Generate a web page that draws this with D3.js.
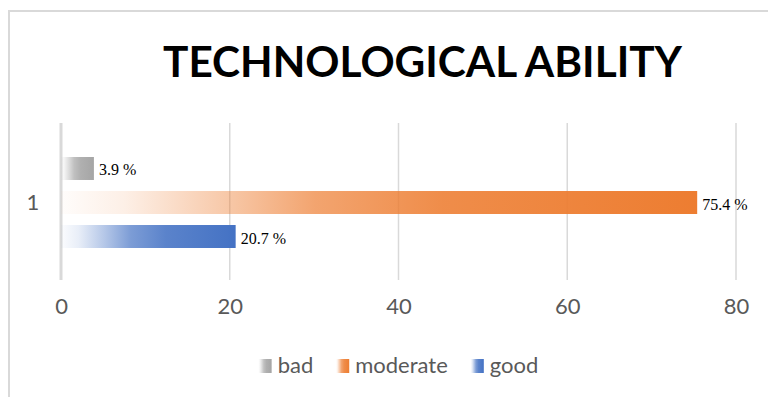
<!DOCTYPE html>
<html>
<head>
<meta charset="utf-8">
<script src="https://cdn.jsdelivr.net/npm/d3@7"></script>
<style>
  html, body { margin: 0; padding: 0; background: #fff; }
  svg { display: block; }
</style>
</head>
<body>
<script>
// data
const categories = ["1"];
const series = ["bad", "moderate", "good"];
const values = [3.9, 75.4, 20.7];
const colors = ["#a5a5a5", "#ed7d31", "#4472c4"];
const ticks = [0, 20, 40, 60, 80];

const W = 768, H = 397;
const plot = { left: 61, right: 736, top: 123, bottom: 280 };

const svg = d3.select("body").append("svg")
  .attr("width", W)
  .attr("height", H);

// chart frame (only the top and left edges show)
svg.append("rect")
  .attr("x", 9).attr("y", 11)
  .attr("width", W + 20).attr("height", H + 20)
  .attr("fill", "#fff")
  .attr("stroke", "#d9d9d9")
  .attr("stroke-width", 2);

// gradients: fade in from white on the left
const defs = svg.append("defs");
const stops = [[0, 0.02], [0.1, 0.12], [0.25, 0.4], [0.4, 0.7], [0.6, 0.88], [1, 1]];
series.forEach((s, i) => {
  const g = defs.append("linearGradient")
    .attr("id", "grad-" + s)
    .attr("x1", 0).attr("x2", 1).attr("y1", 0).attr("y2", 0);
  stops.forEach(([o, a]) => {
    g.append("stop")
      .attr("offset", o)
      .attr("stop-color", colors[i])
      .attr("stop-opacity", a);
  });
});

// title
svg.append("text")
  .attr("x", 163).attr("y", 77)
  .attr("font-family", "Lato, 'Open Sans', sans-serif")
  .attr("font-weight", 700)
  .attr("font-size", 42)
  .attr("textLength", 519)
  .attr("lengthAdjust", "spacingAndGlyphs")
  .attr("fill", "#000")
  .text("TECHNOLOGICAL ABILITY");

// scales
const x = d3.scaleLinear().domain([0, 80]).range([plot.left, plot.right]);
const y = d3.scaleBand().domain(series).range([157, 248])
  .paddingInner(0.324).paddingOuter(0);

// grid lines
svg.append("g")
  .selectAll("line")
  .data(ticks)
  .join("line")
  .attr("x1", (d) => x(d)).attr("x2", (d) => x(d))
  .attr("y1", plot.top).attr("y2", plot.bottom)
  .attr("stroke", "#d9d9d9")
  .attr("stroke-width", (d) => (d === 0 ? 3 : 1.5));

// x axis labels
const xAxis = svg.append("g")
  .attr("transform", `translate(0,${plot.bottom})`)
  .call(d3.axisBottom(x).tickValues(ticks).tickSize(0).tickPadding(18));
xAxis.select(".domain").remove();
xAxis.selectAll("text")
  .attr("font-family", "Lato, sans-serif")
  .attr("font-size", 22)
  .attr("fill", "#595959");

// category label
svg.append("text")
  .attr("x", 33).attr("y", (y("bad") + y("good") + y.bandwidth()) / 2)
  .attr("dy", "0.35em")
  .attr("text-anchor", "middle")
  .attr("font-family", "Lato, sans-serif")
  .attr("font-size", 22)
  .attr("fill", "#595959")
  .text(categories[0]);

// bars
const rows = series.map((s, i) => ({ s, v: values[i] }));
svg.append("g")
  .selectAll("rect")
  .data(rows)
  .join("rect")
  .attr("x", x(0))
  .attr("y", (d) => y(d.s))
  .attr("width", (d) => x(d.v) - x(0))
  .attr("height", y.bandwidth())
  .attr("fill", (d) => `url(#grad-${d.s})`);

// data labels
svg.append("g")
  .selectAll("text")
  .data(rows)
  .join("text")
  .attr("x", (d) => x(d.v) + 5)
  .attr("y", (d) => y(d.s) + y.bandwidth() / 2 + 7)
  .attr("font-family", "'Liberation Serif', 'Times New Roman', serif")
  .attr("font-size", 16)
  .attr("fill", "#000")
  .text((d) => d.v + " %");

// legend, centred under the plot
const legend = svg.append("g");
let lx = 0;
series.forEach((s, i) => {
  const item = legend.append("g").attr("transform", `translate(${lx},0)`);
  item.append("rect")
    .attr("x", 0).attr("y", -14)
    .attr("width", 13).attr("height", 14)
    .attr("fill", `url(#grad-${s})`);
  const t = item.append("text")
    .attr("x", 19).attr("y", 0)
    .attr("font-family", "Lato, sans-serif")
    .attr("font-size", 22)
    .attr("fill", "#595959")
    .text(s);
  lx += 19 + t.node().getComputedTextLength() + 23;
});
const lw = lx - 23;
legend.attr("transform", `translate(${(plot.left + plot.right) / 2 - lw / 2},373)`);
</script>
</body>
</html>
